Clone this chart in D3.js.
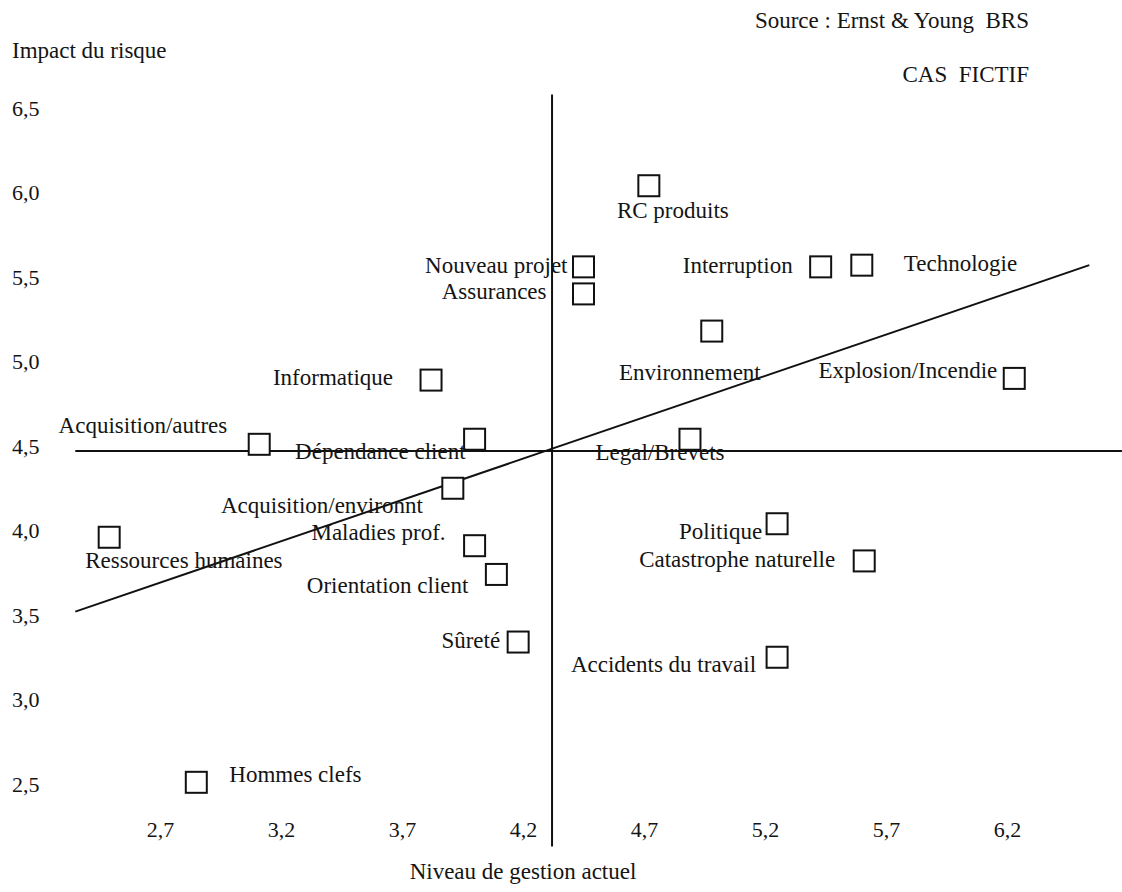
<!DOCTYPE html>
<html>
<head>
<meta charset="utf-8">
<script src="https://cdn.jsdelivr.net/npm/d3@7"></script>
<style>
  html, body { margin: 0; padding: 0; background: #ffffff; }
  svg { display: block; }
  text { font-family: "Liberation Serif", "Times New Roman", serif; fill: #141414; }
</style>
</head>
<body>
<svg id="chart" width="1122" height="892"></svg>
<script>
// ---------- data ----------
const risks = [
  "RC produits", "Nouveau projet", "Assurances", "Interruption", "Technologie",
  "Environnement", "Explosion/Incendie", "Informatique", "Acquisition/autres",
  "Dépendance client", "Legal/Brevets", "Acquisition/environnt", "Ressources humaines",
  "Maladies prof.", "Orientation client", "Sûreté", "Politique",
  "Catastrophe naturelle", "Accidents du travail", "Hommes clefs"
];
const gestion = [
  4.72, 4.45, 4.45, 5.43, 5.60,
  4.98, 6.23, 3.82, 3.11,
  4.00, 4.89, 3.91, 2.49,
  4.00, 4.09, 4.18, 5.25,
  5.61, 5.25, 2.85
];
const impact = [
  6.04, 5.56, 5.40, 5.56, 5.57,
  5.18, 4.90, 4.89, 4.51,
  4.54, 4.54, 4.25, 3.96,
  3.91, 3.74, 3.34, 4.04,
  3.82, 3.25, 2.51
];
const xTicks = [2.7, 3.2, 3.7, 4.2, 4.7, 5.2, 5.7, 6.2];
const yTicks = [6.5, 6.0, 5.5, 5.0, 4.5, 4.0, 3.5, 3.0, 2.5];
// reference lines (in data units)
const vLine = { x: 4.32, y1: 6.58, y2: 2.13 };
const hLine = { y: 4.47, x1: 2.35, x2: 6.675 };
const trend = [{ x: 2.35, y: 3.52 }, { x: 6.54, y: 5.57 }];
const titles = {
  yAxis: "Impact du risque",
  xAxis: "Niveau de gestion actuel",
  source: "Source : Ernst & Young  BRS",
  note: "CAS  FICTIF"
};

// ---------- label layout (offset from marker centre) ----------
const labelLayout = {
  "RC produits":           { a: "middle", dx: 24,  dy: 32 },
  "Nouveau projet":        { a: "end",    dx: -16, dy: 6 },
  "Assurances":            { a: "end",    dx: -37, dy: 5 },
  "Interruption":          { a: "end",    dx: -28, dy: 6 },
  "Technologie":           { a: "start",  dx: 42,  dy: 6 },
  "Environnement":         { a: "end",    dx: 49,  dy: 49 },
  "Explosion/Incendie":    { a: "end",    dx: -17, dy: 0 },
  "Informatique":          { a: "end",    dx: -38, dy: 5 },
  "Acquisition/autres":    { a: "end",    dx: -32, dy: -11 },
  "Dépendance client":     { a: "end",    dx: -9,  dy: 20 },
  "Legal/Brevets":         { a: "middle", dx: -30, dy: 21 },
  "Acquisition/environnt": { a: "end",    dx: -30, dy: 25 },
  "Ressources humaines":   { a: "start",  dx: -24, dy: 31 },
  "Maladies prof.":        { a: "end",    dx: -29, dy: -6 },
  "Orientation client":    { a: "end",    dx: -28, dy: 19 },
  "Sûreté":                { a: "end",    dx: -18, dy: 6 },
  "Politique":             { a: "end",    dx: -15, dy: 15 },
  "Catastrophe naturelle": { a: "end",    dx: -29, dy: 6 },
  "Accidents du travail":  { a: "end",    dx: -21, dy: 15 },
  "Hommes clefs":          { a: "start",  dx: 33,  dy: 0 }
};

// ---------- chart ----------
const svg = d3.select("#chart");
const FS = 23, TFS = 22;

const x = d3.scaleLinear().domain([2.7, 6.2]).range([160, 1007]);
const y = d3.scaleLinear().domain([2.5, 6.5]).range([784, 108]);
const fmt = v => d3.format(".1f")(v).replace(".", ",");

// y axis labels
const yAxis = svg.append("g").attr("transform", "translate(12,0)")
  .call(d3.axisLeft(y).tickValues(yTicks).tickFormat(fmt).tickSize(0).tickPadding(0));
yAxis.select(".domain").remove();
yAxis.selectAll("text")
  .attr("text-anchor", "start").attr("x", 0).attr("dy", "0.33em")
  .style("font-size", TFS + "px").style("font-family", "Liberation Serif, serif").attr("fill", "#141414");

// x axis labels
const xAxis = svg.append("g").attr("transform", "translate(0,837)")
  .call(d3.axisBottom(x).tickValues(xTicks).tickFormat(fmt).tickSize(0).tickPadding(0));
xAxis.select(".domain").remove();
xAxis.selectAll("text")
  .attr("y", 0).attr("dy", 0)
  .style("font-size", TFS + "px").style("font-family", "Liberation Serif, serif").attr("fill", "#141414");

// reference lines
svg.append("line")
  .attr("x1", x(vLine.x)).attr("x2", x(vLine.x))
  .attr("y1", y(vLine.y1)).attr("y2", y(vLine.y2))
  .attr("stroke", "#111").attr("stroke-width", 2);
svg.append("line")
  .attr("x1", x(hLine.x1)).attr("x2", x(hLine.x2))
  .attr("y1", y(hLine.y)).attr("y2", y(hLine.y))
  .attr("stroke", "#111").attr("stroke-width", 2);
svg.append("path")
  .attr("d", d3.line().x(d => x(d.x)).y(d => y(d.y))(trend))
  .attr("fill", "none").attr("stroke", "#111").attr("stroke-width", 2);

// markers
const pts = risks.map((name, i) => ({ name, gx: gestion[i], iy: impact[i] }));
const S = 21;
svg.append("g").selectAll("rect").data(pts).join("rect")
  .attr("x", d => x(d.gx) - S / 2).attr("y", d => y(d.iy) - S / 2)
  .attr("width", S).attr("height", S)
  .attr("fill", "#fff").attr("stroke", "#111").attr("stroke-width", 2);

// labels
svg.append("g").selectAll("text").data(pts).join("text")
  .attr("x", d => x(d.gx) + labelLayout[d.name].dx)
  .attr("y", d => y(d.iy) + labelLayout[d.name].dy)
  .attr("text-anchor", d => labelLayout[d.name].a)
  .style("font-size", FS + "px")
  .text(d => d.name);

// titles
svg.append("text").attr("x", 12).attr("y", 58).style("font-size", FS + "px").text(titles.yAxis);
svg.append("text").attr("x", 523).attr("y", 879).attr("text-anchor", "middle")
  .style("font-size", FS + "px").text(titles.xAxis);
svg.append("text").attr("x", 1029).attr("y", 28).attr("text-anchor", "end")
  .style("font-size", FS + "px").style("white-space", "pre").attr("xml:space", "preserve").text(titles.source);
svg.append("text").attr("x", 1029).attr("y", 82).attr("text-anchor", "end")
  .style("font-size", FS + "px").style("white-space", "pre").attr("xml:space", "preserve").text(titles.note);
</script>
</body>
</html>
